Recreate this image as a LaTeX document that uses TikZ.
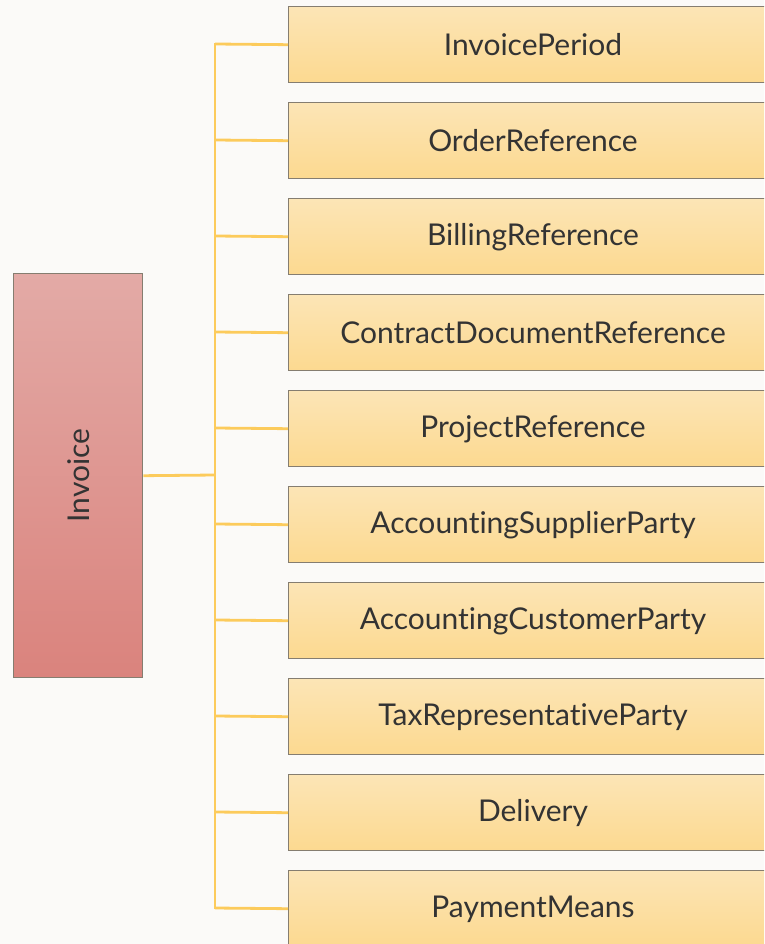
\documentclass[tikz,border=0pt]{standalone}
\usepackage{fontspec}
\setmainfont{Lato}[Ligatures=NoCommon]
\definecolor{bg}{HTML}{FBFAF8}
\definecolor{linec}{HTML}{FCCB5C}
\definecolor{boxtop}{HTML}{FCE5B6}
\definecolor{boxbot}{HTML}{FCD990}
\definecolor{invtop}{HTML}{E3AAA6}
\definecolor{invbot}{HTML}{DA837D}
\definecolor{edge}{HTML}{857D70}
\definecolor{txt}{HTML}{333333}
\begin{document}
\begin{tikzpicture}[x=1pt,y=-1pt,
  child/.style={draw=edge,line width=1.4pt,top color=boxtop,bottom color=boxbot,
    minimum width=500pt,minimum height=76pt,inner sep=0pt,anchor=north west},
  label/.style={text=txt,font=\fontsize{30}{33}\selectfont},
  root/.style={draw=edge,line width=1.4pt,top color=invtop,bottom color=invbot,
    minimum width=129pt,minimum height=404pt,inner sep=0pt,anchor=north west},
  conn/.style={draw=linec,line width=2.8pt}]
\clip (0,0) rectangle (764,944);
\fill[bg] (0,0) rectangle (764,944);
\node[root] (inv) at (13,273) {};
\node[rotate=90,label] (invt) at (inv.center) {Invoice};
\coordinate (trunk) at (215,475);
\draw[conn] (inv.east) -- (trunk);
\foreach \i/\t in {0/InvoicePeriod,1/OrderReference,2/BillingReference,3/ContractDocumentReference,4/ProjectReference,5/AccountingSupplierParty,6/AccountingCustomerParty,7/TaxRepresentativeParty,8/Delivery,9/PaymentMeans}{
  \node[child] (c\i) at (288,6+96*\i) {};
  \node[label] (t\i) at (533,45+96*\i) {\t};
  \coordinate (b\i) at (215,44+96*\i);
  \draw[conn] (b\i) -- (c\i.west);
}
\draw[conn,line cap=rect] (b0) -- (b9);
\end{tikzpicture}
\end{document}
